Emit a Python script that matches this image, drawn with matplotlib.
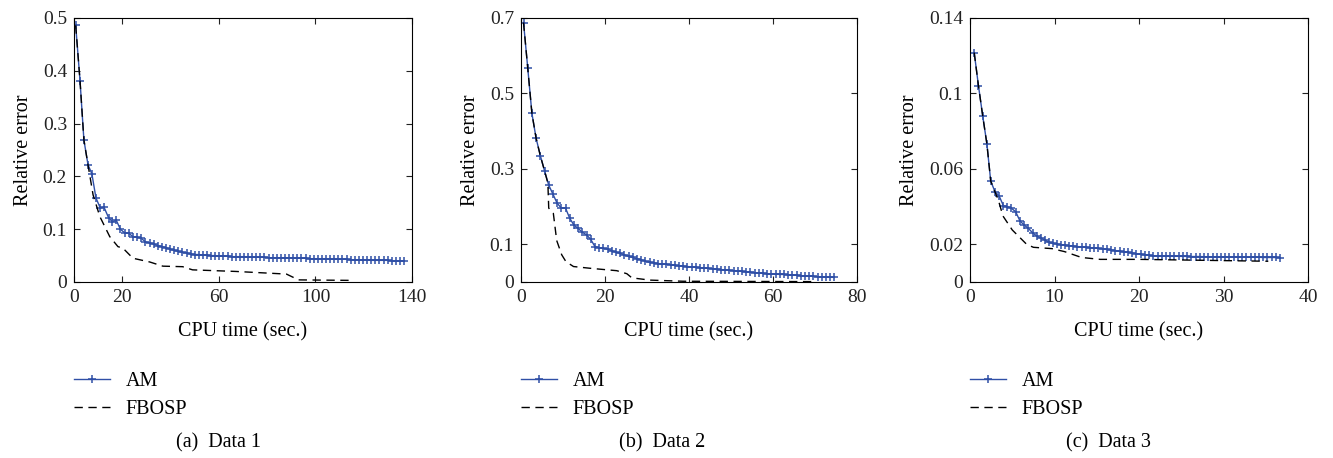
import matplotlib
matplotlib.use('Agg')
import matplotlib.pyplot as plt

plt.rcParams['font.family'] = ['Liberation Serif', 'DejaVu Serif']
plt.rcParams['font.size'] = 14.5

#Data 1
t1AM = [0.7, 2.5, 4.1, 5.8, 7.4, 9.1, 10.9, 12.4, 14.3, 15.9, 17.5, 19.2, 21.0, 22.7, 24.4, 26.1,
        27.8, 29.6, 31.3, 33.0, 34.7, 36.4, 38.1, 39.8, 41.5, 43.2, 44.9, 46.6, 48.3, 50.0, 51.7,
        53.4, 55.1, 56.8, 58.5, 60.2, 61.9, 63.6, 65.3, 67.0, 68.7, 70.4, 72.1, 73.8, 75.5, 77.2,
        78.9, 80.6, 82.3, 84.0, 85.7, 87.4, 89.1, 90.8, 92.5, 94.2, 95.9, 97.6, 99.3, 101.0, 102.7,
        104.4, 106.1, 107.8, 109.5, 111.2, 112.9, 114.6, 116.3, 118.0, 119.7, 121.4, 123.1, 124.8,
        126.5, 128.2, 129.9, 131.6, 133.3, 135.0, 136.5]
e1AM = [0.486, 0.381, 0.269, 0.222, 0.205, 0.159, 0.140, 0.142, 0.122, 0.114, 0.117, 0.100, 0.093,
        0.092, 0.086, 0.085, 0.083, 0.076, 0.074, 0.072, 0.069, 0.067, 0.065, 0.062, 0.060, 0.058,
        0.056, 0.055, 0.053, 0.052, 0.052, 0.051, 0.051, 0.050, 0.050, 0.049, 0.049, 0.049, 0.048,
        0.048, 0.048, 0.048, 0.047, 0.047, 0.047, 0.047, 0.047, 0.046, 0.046, 0.046, 0.046, 0.046,
        0.046, 0.045, 0.045, 0.045, 0.045, 0.044, 0.044, 0.044, 0.044, 0.044, 0.043, 0.043, 0.043,
        0.043, 0.043, 0.042, 0.042, 0.042, 0.042, 0.042, 0.041, 0.041, 0.041, 0.041, 0.041, 0.040,
        0.040, 0.040, 0.040]
t1FB = [0.7, 2.5, 4.1, 5.8, 7.9, 10.7, 14.8, 18.2, 20.3, 24.4, 31.3, 36.8, 45.0, 49.1, 67.0, 88.0,
        93.0, 116.0]
e1FB = [0.486, 0.381, 0.269, 0.222, 0.165, 0.124, 0.086, 0.067, 0.064, 0.045, 0.038, 0.030, 0.029,
        0.023, 0.020, 0.015, 0.004, 0.003]

#Data 2
t2AM = [0.6, 1.6, 2.6, 3.6, 4.6, 5.6, 6.6, 7.6, 8.6, 9.6, 10.6, 11.6, 12.6, 13.6, 14.6, 15.6, 16.6,
        17.6, 18.6, 19.6, 20.6, 21.6, 22.6, 23.6, 24.6, 25.6, 26.6, 27.6, 28.6, 29.6, 30.6, 31.6,
        32.6, 33.6, 34.6, 35.6, 36.6, 37.6, 38.6, 39.6, 40.6, 41.6, 42.6, 43.6, 44.6, 45.6, 46.6,
        47.6, 48.6, 49.6, 50.6, 51.6, 52.6, 53.6, 54.6, 55.6, 56.6, 57.6, 58.6, 59.6, 60.6, 61.6,
        62.6, 63.6, 64.6, 65.6, 66.6, 67.6, 68.6, 69.6, 70.6, 71.6, 72.6, 73.6, 74.6]
e2AM = [0.688, 0.568, 0.447, 0.381, 0.335, 0.295, 0.257, 0.233, 0.209, 0.196, 0.196, 0.169, 0.151,
        0.142, 0.132, 0.125, 0.113, 0.094, 0.091, 0.089, 0.087, 0.083, 0.079, 0.076, 0.072, 0.068,
        0.065, 0.062, 0.059, 0.055, 0.052, 0.051, 0.049, 0.048, 0.047, 0.046, 0.044, 0.043, 0.042,
        0.041, 0.040, 0.039, 0.038, 0.037, 0.036, 0.035, 0.034, 0.033, 0.032, 0.031, 0.030, 0.029,
        0.028, 0.027, 0.026, 0.025, 0.024, 0.023, 0.022, 0.021, 0.021, 0.020, 0.020, 0.019, 0.018,
        0.018, 0.017, 0.016, 0.016, 0.015, 0.014, 0.014, 0.013, 0.013, 0.012]
t2FB = [0.6, 1.6, 2.6, 3.6, 4.6, 5.6, 6.4, 6.6, 7.7, 8.5, 9.7, 10.7, 12.5, 16.8, 22.8, 25.2, 26.4,
        30.7, 38.6, 69.5]
e2FB = [0.688, 0.568, 0.447, 0.381, 0.335, 0.295, 0.262, 0.196, 0.182, 0.110, 0.072, 0.054, 0.041,
        0.036, 0.030, 0.022, 0.011, 0.005, 0.002, 0.001]

#Data 3
t3AM = [0.5, 1.0, 1.5, 2.0, 2.45, 2.95, 3.45, 3.95, 4.4, 4.9, 5.4, 5.9, 6.4, 6.9, 7.4, 7.9, 8.4,
        8.9, 9.3, 9.8, 10.3, 10.8, 11.2, 11.7, 12.2, 12.7, 13.2, 13.7, 14.2, 14.7, 15.2, 15.7, 16.2,
        16.7, 17.2, 17.7, 18.2, 18.7, 19.2, 19.7, 20.2, 20.7, 21.2, 21.7, 22.2, 22.7, 23.2, 23.7,
        24.2, 24.7, 25.2, 25.7, 26.2, 26.7, 27.2, 27.7, 28.2, 28.7, 29.2, 29.7, 30.2, 30.7, 31.2,
        31.7, 32.2, 32.7, 33.2, 33.7, 34.2, 34.7, 35.2, 35.7, 36.2, 36.7]
e3AM = [0.1216, 0.1041, 0.0882, 0.0732, 0.0536, 0.0479, 0.0456, 0.0405, 0.0400, 0.0391, 0.0373,
        0.0325, 0.0302, 0.0285, 0.0261, 0.0244, 0.0232, 0.0223, 0.0210, 0.0205, 0.0201, 0.0198,
        0.0196, 0.0193, 0.0191, 0.0188, 0.0186, 0.0184, 0.0182, 0.0180, 0.0178, 0.0175, 0.0173,
        0.0170, 0.0167, 0.0163, 0.0160, 0.0157, 0.0154, 0.0150, 0.0147, 0.0144, 0.0141, 0.0139,
        0.0138, 0.0138, 0.0137, 0.0137, 0.0137, 0.0136, 0.0136, 0.0136, 0.0135, 0.0135, 0.0135,
        0.0134, 0.0134, 0.0134, 0.0133, 0.0133, 0.0133, 0.0133, 0.0132, 0.0132, 0.0132, 0.0131,
        0.0131, 0.0131, 0.0131, 0.0130, 0.0130, 0.0130, 0.0130, 0.0129]
t3FB = [0.5, 1.0, 1.5, 2.0, 2.45, 2.95, 3.35, 3.9, 5.0, 6.7, 7.5, 9.7, 11.2, 13.2, 15.4, 20.1, 35.3]
e3FB = [0.1216, 0.1041, 0.0882, 0.0732, 0.0536, 0.0479, 0.0435, 0.0350, 0.0276, 0.0200, 0.0184,
        0.0177, 0.0161, 0.0130, 0.0120, 0.0120, 0.0110]

xTicks = [[0, 20, 60, 100, 140], [0, 20, 40, 60, 80], [0, 10, 20, 30, 40]]
yTicks = [[0, 0.1, 0.2, 0.3, 0.4, 0.5], [0, 0.1, 0.3, 0.5, 0.7], [0, 0.02, 0.06, 0.1, 0.14]]
yTickLabels = [['0', '0.1', '0.2', '0.3', '0.4', '0.5'], ['0', '0.1', '0.3', '0.5', '0.7'],
               ['0', '0.02', '0.06', '0.1', '0.14']]
captions = ['(a)  Data 1', '(b)  Data 2', '(c)  Data 3']

W = 1333.0
H = 458.0
fig = plt.figure(figsize=(W / 100, H / 100), dpi=100)

axLeft = [74, 521, 970]
axRight = [412, 857, 1308]
capX = [219, 662, 1108]
amColor = '#2f4fa6'

series = [(t1AM, e1AM, t1FB, e1FB), (t2AM, e2AM, t2FB, e2FB), (t3AM, e3AM, t3FB, e3FB)]

for i in range(3):
    tA, eA, tF, eF = series[i]
    ax = fig.add_axes([axLeft[i] / W, 1 - 282 / H, (axRight[i] - axLeft[i]) / W, 264 / H])
    ax.plot(tA, eA, color=amColor, lw=1.0, marker='+', ms=6, mew=1.1, label='AM')
    ax.plot(tF, eF, color='black', lw=1.0, ls=(0, (6, 4)), label='FBOSP')
    ax.set_xlim(xTicks[i][0], xTicks[i][-1])
    ax.set_ylim(yTicks[i][0], yTicks[i][-1])
    ax.set_xticks(xTicks[i])
    ax.set_yticks(yTicks[i])
    ax.set_yticklabels(yTickLabels[i])
    ax.tick_params(direction='in', top=True, right=True, length=4, width=0.8, pad=5,
                   labelsize=14, colors='#222222')
    for s in ax.spines.values():
        s.set_linewidth(0.8)
    ax.set_xlabel('CPU time (sec.)', labelpad=12)
    ax.set_ylabel('Relative error', labelpad=7)
    ax.legend(loc='upper left', bbox_to_anchor=(axLeft[i] / W, 1 - 372 / H),
              bbox_transform=fig.transFigure, frameon=False, borderpad=0, borderaxespad=0,
              handlelength=1.8, handletextpad=0.75, labelspacing=0.45, fontsize=14.5)
    fig.text(capX[i] / W, 1 - 443 / H, captions[i], ha='center', va='center', fontsize=14.5)

fig.savefig('out.png', dpi=100)
